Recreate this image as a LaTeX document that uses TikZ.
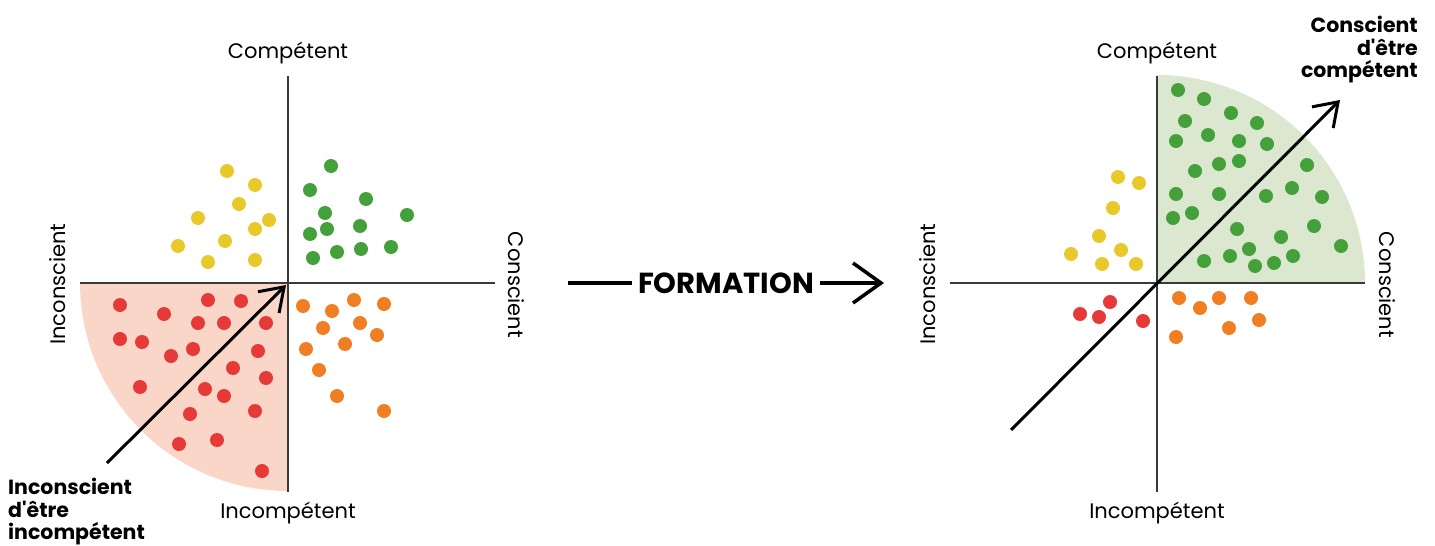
\documentclass[tikz,border=0pt]{standalone}
\usepackage{fontspec}
\setmainfont{Poppins}
\usepackage{tikz}
\usetikzlibrary{arrows.meta,positioning}
\definecolor{matYellow}{HTML}{E9C92A}
\definecolor{matGreen}{HTML}{44A03A}
\definecolor{matRed}{HTML}{E53A37}
\definecolor{matOrange}{HTML}{F07E22}
\definecolor{matRedPale}{HTML}{FAD6C9}
\definecolor{matGreenPale}{HTML}{DCE7D0}
\definecolor{matAxis}{HTML}{3A3A3A}

\begin{document}
\begin{tikzpicture}[x=1pt,y=-1pt,
  axis/.style={draw=matAxis,line width=1.3pt},
  axlabel/.style={inner sep=0pt,font=\fontsize{21}{24}\selectfont},
  biglabel/.style={inner sep=0pt,font=\fontsize{20.5}{22.5}\selectfont\bfseries},
  growth/.style={draw,line width=3pt,-{Straight Barb[length=22pt,width=30pt]}},
]
\useasboundingbox (0,0) rectangle (1435,546);

% --- avant la formation
\coordinate (oA) at (288,283);
\coordinate (wA) at (80,283);
\coordinate (eA) at (495,283);
\coordinate (nA) at (288,76);
\coordinate (sA) at (288,492);
\fill[matRedPale] (oA) -- (wA) arc[start angle=180,end angle=90,radius=208] -- cycle;
\draw[axis] (wA) -- (eA);
\draw[axis] (nA) -- (sA);

\foreach \p in {(227,171),(255,185),(239,204),(198,218),(269,220),
                (255,229),(225,241),(178,246),(208,262),(255,260)}
  \fill[matYellow] \p circle[radius=7];
\foreach \p in {(331,166),(310,190),(366,199),(325,213),(407,215),(310,234),
                (327,229),(360,226),(313,258),(337,252),(361,249),(391,247)}
  \fill[matGreen] \p circle[radius=7];
\foreach \p in {(120,305),(208,300),(241,301),(164,314),(198,323),(224,323),
                (266,323),(120,339),(142,342),(171,356),(193,349),(258,351),
                (233,368),(266,378),(140,387),(205,389),(224,396),(190,414),
                (255,411),(179,444),(217,440),(262,471)}
  \fill[matRed] \p circle[radius=7];
\foreach \p in {(303,306),(332,311),(354,300),(384,304),(323,328),(360,323),
                (377,335),(306,349),(345,344),(319,370),(337,396),(384,411)}
  \fill[matOrange] \p circle[radius=7];

\coordinate (startA) at (107,463);
\draw[growth] (startA) -- (286,285);

\node[axlabel] (compA) at (288,53) {Compétent};
\node[axlabel] (incompA) at (288,513) {Incompétent};
\node[axlabel,rotate=90] (inconsA) at (58,284) {Inconscient};
\node[axlabel,rotate=-90] (consA) at (516,285) {Conscient};
\node[biglabel,align=left,anchor=north west] (stageA) at (8,478)
  {Inconscient\\d\textquotesingle être\\incompétent};

% --- formation
\coordinate (fStart) at (568,283);
\node[inner sep=0pt,font=\fontsize{29}{32}\selectfont\bfseries] (formation) at (726,283) {FORMATION};
\coordinate (fEnd) at (884,283);
\draw[line width=3.5pt] (fStart) -- ([xshift=-6pt]formation.west);
\draw[line width=3.5pt,-{Straight Barb[length=28pt,width=40pt]}]
  ([xshift=6pt]formation.east) -- (fEnd);

% --- apres la formation
\coordinate (oB) at (1157,283);
\coordinate (wB) at (950,283);
\coordinate (eB) at (1365,283);
\coordinate (nB) at (1157,76);
\coordinate (sB) at (1157,492);
\fill[matGreenPale] (oB) -- (eB) arc[start angle=0,end angle=-90,radius=208] -- cycle;
\draw[axis] (wB) -- (eB);
\draw[axis] (nB) -- (sB);

\foreach \p in {(1178,90),(1204,99),(1231,113),(1185,121),(1257,123),(1176,141),
                (1208,135),(1239,141),(1267,144),(1195,171),(1219,164),(1239,161),
                (1307,165),(1176,194),(1219,194),(1266,196),(1292,188),(1322,197),
                (1173,218),(1192,213),(1237,229),(1281,237),(1314,226),(1341,246),
                (1249,249),(1204,261),(1230,256),(1255,266),(1274,263),(1293,256)}
  \fill[matGreen] \p circle[radius=7];
\foreach \p in {(1118,177),(1139,183),(1113,208),(1099,236),
                (1071,254),(1121,250),(1102,264),(1136,264)}
  \fill[matYellow] \p circle[radius=7];
\foreach \p in {(1080,314),(1099,317),(1110,302),(1143,321)}
  \fill[matRed] \p circle[radius=7];
\foreach \p in {(1179,298),(1200,308),(1219,298),(1251,298),
                (1229,328),(1259,320),(1176,337)}
  \fill[matOrange] \p circle[radius=7];

\coordinate (startB) at (1011,430);
\coordinate (tipB) at (1340,100);
\draw[growth] (startB) -- (tipB);

\node[axlabel] (compB) at (1157,53) {Compétent};
\node[axlabel] (incompB) at (1157,513) {Incompétent};
\node[axlabel,rotate=90] (inconsB) at (928,284) {Inconscient};
\node[axlabel,rotate=-90] (consB) at (1387,285) {Conscient};
\node[biglabel,align=right,anchor=north east] (stageB) at (1418,16)
  {Conscient\\d\textquotesingle être\\compétent};
\end{tikzpicture}
\end{document}
